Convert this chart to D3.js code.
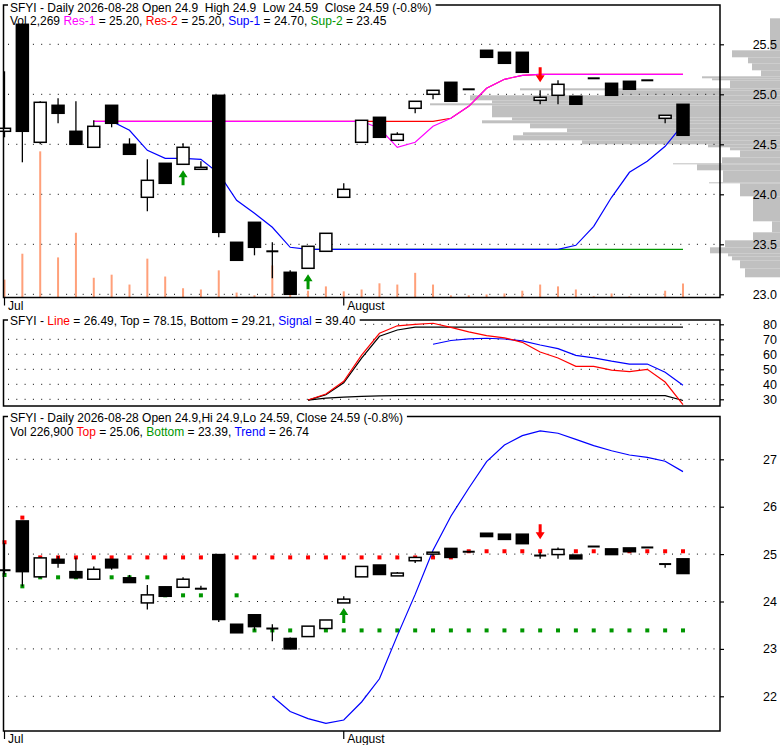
<!DOCTYPE html>
<html>
<head>
<meta charset="utf-8">
<script src="https://cdn.jsdelivr.net/npm/d3@7"></script>
<style>
body { margin: 0; background: #fff; }
svg { display: block; font-family: "Liberation Sans", Arial, sans-serif; }
text { white-space: pre; }
</style>
</head>
<body>
<div id="chart"></div>
<script>
// daily candles, Jul 1 .. Aug 28 (thin stock, some July days have no trades)
var opens  = [24.63,25.70,24.52,24.89,24.63,24.47,24.89,24.50,23.97,24.31,24.30,24.25,24.99,23.52,23.72,23.43,23.22,23.26,23.43,23.97,
              24.52,24.77,24.54,24.86,25.00,25.12,25.05,25.44,25.42,25.42,24.94,24.99,24.98,25.16,25.11,25.13,25.14,24.76,24.90];
var highs  = [25.23,25.70,24.93,24.96,24.93,24.74,24.89,24.56,24.35,24.31,24.51,24.33,24.99,23.52,23.72,23.52,23.24,23.48,23.61,24.11,
              24.74,24.77,24.62,24.93,25.04,25.12,25.05,25.44,25.42,25.42,25.04,25.14,24.98,25.16,25.11,25.13,25.14,24.79,24.90];
var lows   = [24.57,24.32,24.50,24.71,24.50,24.47,24.67,24.40,23.83,24.11,24.30,24.25,23.57,23.34,23.39,23.16,23.00,23.26,23.43,23.97,
              24.52,24.57,24.54,24.81,24.95,24.93,25.05,25.37,25.31,25.22,24.90,24.90,24.90,25.16,24.99,25.05,25.14,24.71,24.59];
var closes = [24.66,24.63,24.92,24.81,24.50,24.68,24.71,24.40,24.14,24.11,24.47,24.27,23.62,23.34,23.47,23.43,23.00,23.48,23.61,24.05,
              24.74,24.57,24.60,24.93,25.04,24.93,25.05,25.37,25.31,25.22,24.97,25.10,24.90,25.16,24.99,25.05,25.14,24.79,24.59];
var volumes = [2900,7100,23700,6500,10500,3200,3700,2100,6300,3400,1500,1300,4400,800,350,5200,500,1100,1800,1000,
               1300,2300,2100,4000,2100,350,350,500,650,1100,2100,1800,1300,200,650,200,100,1100,2269];

// x axis month labels (candle index where the month starts)
var monthIdx = [0, 19];
var monthNames = ["Jul", "August"];

// top panel: support / resistance lines (first index, values)
var res1Start = 5;
var res1 = [24.73,24.73,24.73,24.73,24.73,24.73,24.73,24.73,24.73,24.73,24.73,24.73,24.73,24.73,24.73,24.73,
            24.66,24.47,24.52,24.68,24.76,24.88,25.06,25.15,25.19,25.20,25.20,25.20,25.20,25.20,25.20,25.20,25.20,25.20];
var res2Start = 5;
var res2 = [24.73,24.73,24.73,24.73,24.73,24.73,24.73,24.73,24.73,24.73,24.73,24.73,24.73,24.73,24.73,24.73,
            24.73,24.73,24.73,24.73,24.76,24.88,25.06,25.15,25.19,25.20,25.20,25.20,25.20,25.20,25.20,25.20,25.20,25.20];
var sup1Start = 6;
var sup1 = [24.73,24.64,24.44,24.36,24.36,24.35,24.21,23.94,23.81,23.67,23.47,23.45,23.45,23.45,23.45,23.45,23.45,
            23.45,23.45,23.45,23.45,23.45,23.45,23.45,23.45,23.45,23.49,23.68,23.97,24.22,24.33,24.48,24.70];
var sup2Start = 17;
var sup2 = [23.45,23.45,23.45,23.45,23.45,23.45,23.45,23.45,23.45,23.45,23.45,23.45,23.45,23.45,23.45,23.45,23.45,23.45,23.45,23.45,23.45,23.45];
var upArrowsTop = [10, 17];
var downArrowsTop = [30];

// volume at price profile (price band high, low, volume)
var profHi  = [25.76,25.44,25.37,25.31,25.24,25.18,25.16,25.14,25.06,25.04,24.99,24.94,24.91,24.89,24.77,24.74,24.71,24.66,24.62,24.59,
               24.54,24.50,24.47,24.44,24.37,24.31,24.30,24.24,24.12,24.11,23.98,23.73,23.62,23.54,23.47,23.41,23.38,23.34,23.26];
var profLo  = [25.44,25.37,25.31,25.24,25.18,25.16,25.14,25.06,25.04,24.99,24.94,24.91,24.89,24.77,24.74,24.71,24.66,24.62,24.59,24.54,
               24.50,24.47,24.44,24.37,24.31,24.30,24.24,24.12,24.11,23.98,23.73,23.62,23.54,23.47,23.41,23.38,23.34,23.26,23.17];
var profVol = [1000,4800,3200,2800,1900,7800,6800,5000,26000,16700,31000,28800,35000,28800,26800,29800,25000,21300,25700,26700,
               19800,7200,5000,4000,5800,10700,8300,5700,7100,4000,2700,800,2700,5500,7000,5200,4800,4000,3500];

// middle panel oscillator
var oscLineStart = 17;
var oscLine = [29.5,33.5,42,59.5,74,79,80,80.7,78,75,72.5,71,68,61.5,57.5,52,52,49.5,48.5,50,41.5,26.49];
var oscTopStart = 17;
var oscTop = [29.5,33,41,57.5,72,76.2,78.15,78.15,78.15,78.15,78.15,78.15,78.15,78.15,78.15,78.15,78.15,78.15,78.15,78.15,78.15,78.15];
var oscBottomStart = 17;
var oscBottom = [29.5,30.8,31.5,32,32.3,32.4,32.4,32.4,32.4,32.4,32.4,32.4,32.4,32.4,32.4,32.4,32.4,32.4,32.4,32.4,32.4,29.21];
var oscSignalStart = 24;
var oscSignal = [66.7,69.2,70.3,70.7,70.2,69,66.2,63.8,59.3,57.6,55.4,53.5,53.5,48,39.4];

// bottom panel: top / bottom dots and trend
var bandTop = [25.25,25.77,24.93,24.93,24.93,24.93,24.93,24.93,24.93,24.93,24.93,24.93,24.93,24.93,24.93,24.93,24.93,24.93,24.93,24.93,
               24.93,24.93,24.93,24.93,24.93,24.93,25.06,25.06,25.06,25.06,25.06,25.06,25.06,25.06,25.06,25.06,25.06,25.06,25.06];
var bandBottom = [24.56,24.32,24.51,24.51,24.51,24.51,24.51,24.51,24.51,24.13,24.13,24.13,24.13,24.13,23.39,23.39,23.39,23.39,23.39,23.39,
                  23.39,23.39,23.39,23.39,23.39,23.39,23.39,23.39,23.39,23.39,23.39,23.39,23.39,23.39,23.39,23.39,23.39,23.39,23.39];
var trendStart = 15;
var trend = [22.0,21.68,21.53,21.43,21.5,21.88,22.37,23.28,24.15,25.08,25.8,26.39,26.95,27.3,27.5,27.6,27.55,27.42,27.29,27.18,27.09,27.04,26.96,26.74];
var upArrowsBot = [19];
var downArrowsBot = [30];

var topTicks = [23.0,23.5,24.0,24.5,25.0,25.5];
var midTicks = [30,40,50,60,70,80];
var botTicks = [22,23,24,25,26,27];

var W = 780, H = 745;
var plotLeft = 3.5, plotRight = 720;
var green = "#009600";

var svg = d3.select("#chart").append("svg")
    .attr("width", W)
    .attr("height", H);

var xScale = d3.scaleLinear().domain([0, 38]).range([4.5, 683]);
var yTop = d3.scaleLinear().domain([23, 25.5]).range([294.3, 44.3]);
var yMid = d3.scaleLinear().domain([30, 80]).range([399.3, 324.3]);
var yBot = d3.scaleLinear().domain([22, 27]).range([696.3, 459.3]);
var volScale = d3.scaleLinear().domain([0, 24000]).range([297.5, 149.5]);
var profScale = d3.scaleLinear().domain([0, 35000]).range([0, 350]);

var candles = opens.map(function(o, i){
    return {i: i, o: o, h: highs[i], l: lows[i], c: closes[i], v: volumes[i]};
});

function series(start, vals){
    return vals.map(function(v, k){ return {i: start + k, v: v}; });
}

function grid(g, y, ticks){
    g.selectAll(null).data(ticks).enter().append("line")
        .attr("x1", 8).attr("x2", plotRight)
        .attr("y1", function(d){ return y(d); })
        .attr("y2", function(d){ return y(d); })
        .attr("stroke", "#000")
        .attr("stroke-width", 1)
        .attr("stroke-dasharray", "1,7.3");
}

function rightAxis(y, ticks, fmt){
    var ax = d3.axisRight(y).tickValues(ticks).tickSize(4).tickFormat(fmt);
    var g = svg.append("g")
        .attr("transform", "translate(" + plotRight + ",0)")
        .call(ax);
    g.select(".domain").remove();
    g.selectAll("line").attr("stroke", "#000").attr("stroke-width", 1.2);
    g.selectAll("text")
        .attr("x", 57)
        .attr("text-anchor", "end")
        .attr("fill", "#000")
        .style("font-size", "12.5px")
        .style("font-family", "'Liberation Sans', Arial, sans-serif");
}

function drawLine(g, y, data, color){
    var line = d3.line()
        .x(function(d){ return xScale(d.i); })
        .y(function(d){ return y(d.v); });
    g.append("path").datum(data)
        .attr("d", line)
        .attr("fill", "none")
        .attr("stroke", color)
        .attr("stroke-width", 1.2);
}

function drawCandles(g, y){
    var bw = 12;
    g.selectAll(null).data(candles).enter().append("line")
        .attr("x1", function(d){ return xScale(d.i); })
        .attr("x2", function(d){ return xScale(d.i); })
        .attr("y1", function(d){ return y(d.h); })
        .attr("y2", function(d){ return y(d.l); })
        .attr("stroke", "#000")
        .attr("stroke-width", 1.3);
    var bodies = candles.filter(function(d){ return Math.abs(y(d.o) - y(d.c)) >= 1.5; });
    var dashes = candles.filter(function(d){ return Math.abs(y(d.o) - y(d.c)) < 1.5; });
    g.selectAll(null).data(bodies).enter().append("rect")
        .attr("x", function(d){ return xScale(d.i) - bw / 2; })
        .attr("y", function(d){ return y(Math.max(d.o, d.c)); })
        .attr("width", bw)
        .attr("height", function(d){ return Math.abs(y(d.o) - y(d.c)); })
        .attr("fill", function(d){ return d.c >= d.o ? "#fff" : "#000"; })
        .attr("stroke", "#000")
        .attr("stroke-width", 1.5);
    g.selectAll(null).data(dashes).enter().append("line")
        .attr("x1", function(d){ return xScale(d.i) - bw / 2; })
        .attr("x2", function(d){ return xScale(d.i) + bw / 2; })
        .attr("y1", function(d){ return y(d.c); })
        .attr("y2", function(d){ return y(d.c); })
        .attr("stroke", "#000")
        .attr("stroke-width", 2);
}

function arrowPath(cx, ty, up){
    var s = up ? 1 : -1;
    return "M" + cx + "," + ty +
        "L" + (cx + 4.5) + "," + (ty + 7 * s) +
        "L" + (cx + 1.5) + "," + (ty + 7 * s) +
        "L" + (cx + 1.5) + "," + (ty + 15 * s) +
        "L" + (cx - 1.5) + "," + (ty + 15 * s) +
        "L" + (cx - 1.5) + "," + (ty + 7 * s) +
        "L" + (cx - 4.5) + "," + (ty + 7 * s) + "Z";
}

function drawArrows(g, y, ups, downs, upGap, downGap){
    g.selectAll(null).data(ups).enter().append("path")
        .attr("d", function(i){ return arrowPath(xScale(i), y(lows[i]) + upGap, true); })
        .attr("fill", green);
    g.selectAll(null).data(downs).enter().append("path")
        .attr("d", function(i){ return arrowPath(xScale(i), y(highs[i]) - downGap, false); })
        .attr("fill", "#f00");
}

function frame(top, bottom){
    svg.append("rect")
        .attr("x", plotLeft).attr("y", top)
        .attr("width", plotRight - plotLeft)
        .attr("height", bottom - top)
        .attr("fill", "none")
        .attr("stroke", "#000")
        .attr("stroke-width", 1.5);
}

function title(y, parts, withBg){
    var t = svg.append("text")
        .attr("x", 10).attr("y", y)
        .style("font-size", "12px");
    parts.forEach(function(p){
        t.append("tspan").attr("fill", p[1] || "#000").text(p[0]);
    });
    if (withBg) {
        var bb = t.node().getBBox();
        svg.insert("rect", function(){ return t.node(); })
            .attr("x", 8).attr("y", bb.y)
            .attr("width", bb.x + bb.width - 8 + 4)
            .attr("height", bb.height)
            .attr("fill", "#fff");
    }
    return t;
}

function monthAxis(bottom, labelY){
    svg.selectAll(null).data(monthIdx).enter().append("line")
        .attr("x1", function(d){ return xScale(d); })
        .attr("x2", function(d){ return xScale(d); })
        .attr("y1", bottom).attr("y2", bottom + 8)
        .attr("stroke", "#000").attr("stroke-width", 1.2);
    svg.selectAll(null).data(monthIdx).enter().append("text")
        .attr("x", function(d){ return xScale(d) + 3.5; })
        .attr("y", labelY)
        .style("font-size", "12px")
        .text(function(d, k){ return monthNames[k]; });
}

// ---------- top panel ----------
var gTop = svg.append("g");
gTop.selectAll(null).data(profVol).enter().append("rect")
    .attr("x", function(d){ return W - profScale(d); })
    .attr("width", function(d){ return profScale(d); })
    .attr("y", function(d, k){ return yTop(profHi[k]); })
    .attr("height", function(d, k){ return yTop(profLo[k]) - yTop(profHi[k]); })
    .attr("fill", "#c0c0c0");
grid(gTop, yTop, topTicks);
gTop.selectAll(null).data(candles).enter().append("rect")
    .attr("x", function(d){ return xScale(d.i) - 1; })
    .attr("width", 2)
    .attr("y", function(d){ return volScale(d.v); })
    .attr("height", function(d){ return volScale(0) - volScale(d.v); })
    .attr("fill", "#ffa07a");
drawLine(gTop, yTop, series(sup2Start, sup2), green);
drawLine(gTop, yTop, series(sup1Start, sup1), "#0000ff");
drawLine(gTop, yTop, series(res2Start, res2), "#ff0000");
drawLine(gTop, yTop, series(res1Start, res1), "#ff00ff");
drawCandles(gTop, yTop);
drawArrows(gTop, yTop, upArrowsTop, downArrowsTop, 6, 8);
frame(5, 297.5);
rightAxis(yTop, topTicks, d3.format(".1f"));
monthAxis(297.5, 309.5);
title(11.5, [["SFYI - Daily 2026-08-28 Open 24.9  High 24.9  Low 24.59  Close 24.59 (-0.8%)"]], true);
title(25, [["Vol 2,269 "], ["Res-1", "#ff00ff"], [" = 25.20, "], ["Res-2", "#ff0000"], [" = 25.20, "],
           ["Sup-1", "#0000ff"], [" = 24.70, "], ["Sup-2", green], [" = 23.45"]], false);

// ---------- middle panel ----------
var gMid = svg.append("g");
grid(gMid, yMid, midTicks);
drawLine(gMid, yMid, series(oscSignalStart, oscSignal), "#0000ff");
drawLine(gMid, yMid, series(oscTopStart, oscTop), "#000");
drawLine(gMid, yMid, series(oscBottomStart, oscBottom), "#000");
drawLine(gMid, yMid, series(oscLineStart, oscLine), "#ff0000");
frame(320, 406);
rightAxis(yMid, midTicks, d3.format("d"));
title(325, [["SFYI - "], ["Line", "#ff0000"], [" = 26.49, Top = 78.15, Bottom = 29.21, "], ["Signal", "#0000ff"], [" = 39.40"]], true);

// ---------- bottom panel ----------
var gBot = svg.append("g");
grid(gBot, yBot, botTicks);
gBot.selectAll(null).data(bandTop).enter().append("rect")
    .attr("x", function(d, i){ return xScale(i) - 2; })
    .attr("y", function(d){ return yBot(d) - 2; })
    .attr("width", 4).attr("height", 4)
    .attr("fill", "#ff0000");
gBot.selectAll(null).data(bandBottom).enter().append("rect")
    .attr("x", function(d, i){ return xScale(i) - 2; })
    .attr("y", function(d){ return yBot(d) - 2; })
    .attr("width", 4).attr("height", 4)
    .attr("fill", green);
drawLine(gBot, yBot, series(trendStart, trend), "#0000ff");
drawCandles(gBot, yBot);
drawArrows(gBot, yBot, upArrowsBot, downArrowsBot, 5, 13);
frame(416.5, 731);
rightAxis(yBot, botTicks, d3.format("d"));
monthAxis(731, 742.5);
title(421.5, [["SFYI - Daily 2026-08-28 Open 24.9,Hi 24.9,Lo 24.59, Close 24.59 (-0.8%)"]], true);
title(435.5, [["Vol 226,900 "], ["Top", "#ff0000"], [" = 25.06, "], ["Bottom", green], [" = 23.39, "],
              ["Trend", "#0000ff"], [" = 26.74"]], false);
</script>
</body>
</html>
